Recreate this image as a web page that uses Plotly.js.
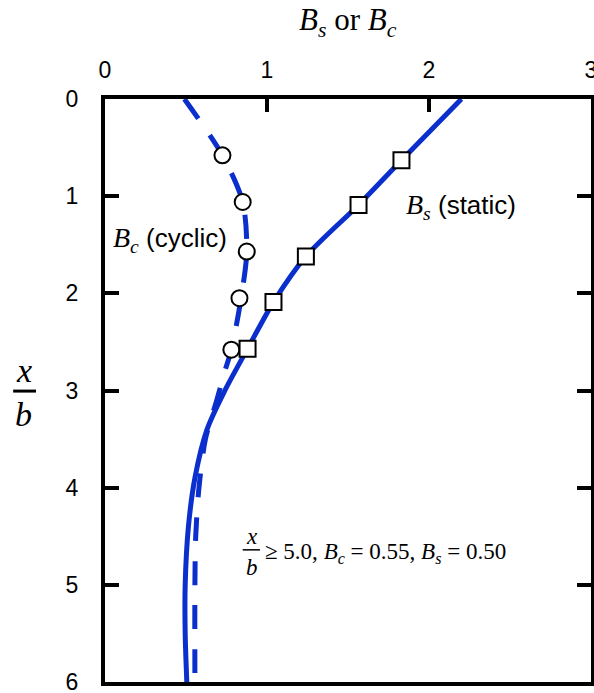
<!DOCTYPE html>
<html>
<head>
<meta charset="utf-8">
<script src="https://cdn.plot.ly/plotly-3.0.1.min.js"></script>
<style>
  html, body { margin: 0; padding: 0; background: #fff; }
  #chart { width: 594px; height: 693px; }
</style>
</head>
<body>
<div id="chart"></div>
<script>
// static curve (solid) and its measured points
const staticDepth = [0, 0.63, 1.09, 1.62, 2.09, 2.57, 3.0, 3.4, 3.9, 4.4, 5.0, 5.5, 6.0];
const staticB     = [2.2, 1.83, 1.565, 1.24, 1.04, 0.88, 0.74, 0.63, 0.555, 0.515, 0.495, 0.495, 0.505];
const staticPtDepth = [0.63, 1.09, 1.62, 2.09, 2.57];
const staticPtB     = [1.83, 1.565, 1.24, 1.04, 0.88];

// cyclic curve (dashed) and its measured points
const cyclicDepth = [0, 0.58, 1.06, 1.57, 2.05, 2.58, 2.8, 3.1, 3.5, 4.0, 4.5, 5.0, 6.0];
const cyclicB     = [0.49, 0.725, 0.85, 0.875, 0.84, 0.78, 0.74, 0.69, 0.62, 0.58, 0.56, 0.555, 0.555];
const cyclicPtDepth = [0.58, 1.06, 1.57, 2.05, 2.58];
const cyclicPtB     = [0.725, 0.85, 0.875, 0.83, 0.78];

const xTicks = [0, 1, 2, 3];
const yTicks = [0, 1, 2, 3, 4, 5, 6];

const blue = '#0a2fcc';
const serif = 'Liberation Serif, Times New Roman, serif';
const sans = 'Liberation Sans, Arial, sans-serif';

const traces = [
  {
    x: cyclicB, y: cyclicDepth, mode: 'lines', type: 'scatter',
    line: { color: blue, width: 5, dash: '24px,20px', shape: 'spline', smoothing: 0.8 },
    hoverinfo: 'skip'
  },
  {
    x: staticB, y: staticDepth, mode: 'lines', type: 'scatter',
    line: { color: blue, width: 5, shape: 'spline', smoothing: 0.8 },
    hoverinfo: 'skip'
  },
  {
    x: cyclicPtB, y: cyclicPtDepth, mode: 'markers', type: 'scatter',
    marker: { symbol: 'circle', size: 16, color: '#fff', line: { color: '#000', width: 2 } }
  },
  {
    x: staticPtB, y: staticPtDepth, mode: 'markers', type: 'scatter',
    marker: { symbol: 'square', size: 16, color: '#fff', line: { color: '#000', width: 2 } }
  }
];

// every annotation centred on its anchor point
function note(o) {
  return Object.assign({ showarrow: false, xanchor: 'center', yanchor: 'middle' }, o);
}

const layout = {
  width: 594, height: 693,
  margin: { l: 105, r: 3, t: 99, b: 11 },
  showlegend: false,
  plot_bgcolor: '#fff', paper_bgcolor: '#fff',
  font: { family: sans, size: 24, color: '#000' },
  xaxis: {
    side: 'top', range: [0, 3], tickvals: xTicks,
    showgrid: false, zeroline: false,
    showline: true, linecolor: '#000', linewidth: 4, mirror: true,
    ticks: 'inside', ticklen: 13, tickwidth: 4, tickcolor: '#000',
    ticklabelstandoff: 8, ticklabeloverflow: 'allow',
    tickfont: { family: sans, size: 23 }
  },
  yaxis: {
    range: [6, 0], tickvals: yTicks,
    showgrid: false, zeroline: false,
    showline: true, linecolor: '#000', linewidth: 4, mirror: 'ticks',
    ticks: 'inside', ticklen: 14, tickwidth: 4, tickcolor: '#000',
    ticklabelstandoff: 18, ticklabeloverflow: 'allow',
    tickfont: { family: sans, size: 23 }
  },
  shapes: [
    // y label fraction bar
    { type: 'line', xref: 'paper', yref: 'paper', x0: -0.189, x1: -0.142, y0: 0.499, y1: 0.499,
      line: { color: '#000', width: 3 } },
    // formula fraction bar
    { type: 'line', xref: 'x', yref: 'y', x0: 0.85, x1: 0.957, y0: 4.64, y1: 4.64,
      line: { color: '#000', width: 1.5 } }
  ],
  annotations: [
    note({ xref: 'paper', yref: 'paper', x: 0.5, y: 1.132,
      text: '<i>B<sub>s</sub></i> or <i>B<sub>c</sub></i>', font: { family: serif, size: 31 } }),
    note({ xref: 'paper', yref: 'paper', x: -0.167, y: 0.535,
      text: '<i>x</i>', font: { family: serif, size: 34 } }),
    note({ xref: 'paper', yref: 'paper', x: -0.167, y: 0.458,
      text: '<i>b</i>', font: { family: serif, size: 34 } }),
    note({ xref: 'x', yref: 'y', x: 2.2, y: 1.11,
      text: '<span style="font-family:Liberation Serif;font-size:28px"><i>B<sub>s</sub></i></span> (static)',
      font: { family: sans, size: 26 } }),
    note({ xref: 'x', yref: 'y', x: 0.40, y: 1.45,
      text: '<span style="font-family:Liberation Serif;font-size:28px"><i>B<sub>c</sub></i></span> (cyclic)',
      font: { family: sans, size: 26 } }),
    note({ xref: 'x', yref: 'y', x: 0.905, y: 4.5,
      text: '<i>x</i>', font: { family: serif, size: 23 } }),
    note({ xref: 'x', yref: 'y', x: 0.905, y: 4.82,
      text: '<i>b</i>', font: { family: serif, size: 23 } }),
    note({ xref: 'x', yref: 'y', x: 0.975, y: 4.67, xanchor: 'left',
      text: '≥ 5.0, <i>B<sub>c</sub></i> = 0.55, <i>B<sub>s</sub></i> = 0.50',
      font: { family: serif, size: 23 } })
  ]
};

Plotly.newPlot('chart', traces, layout, { displayModeBar: false, staticPlot: true });
</script>
</body>
</html>
